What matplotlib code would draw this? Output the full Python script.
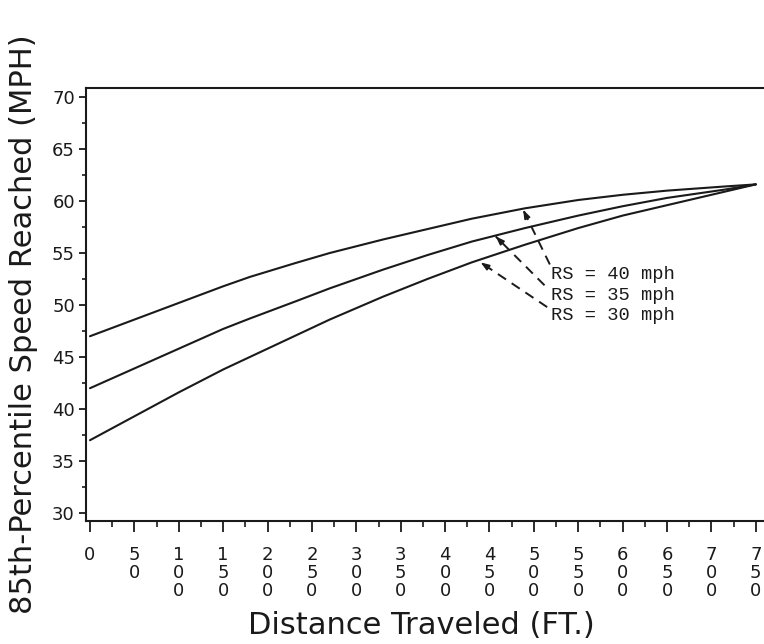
import matplotlib
matplotlib.use('Agg')
import matplotlib.pyplot as plt
from matplotlib.ticker import MultipleLocator, FixedLocator

# speed reached vs distance travelled, one curve per roadway speed (RS)
distance_ft = [0, 50, 100, 150, 180, 230, 270, 330, 380, 430, 490, 550, 600, 650, 715, 750]
speed_rs40 = [47.0, 48.6, 50.2, 51.8, 52.7, 54.0, 55.0, 56.3, 57.3, 58.3, 59.3, 60.1, 60.6, 61.0, 61.4, 61.6]
speed_rs35 = [42.0, 43.9, 45.8, 47.7, 48.7, 50.3, 51.6, 53.4, 54.8, 56.1, 57.4, 58.6, 59.5, 60.3, 61.1, 61.6]
speed_rs30 = [37.0, 39.3, 41.6, 43.8, 45.0, 47.0, 48.6, 50.8, 52.5, 54.1, 55.8, 57.4, 58.6, 59.6, 60.9, 61.6]

x_ticks = list(range(0, 751, 50))
y_ticks = list(range(30, 71, 5))

labels = ['RS = 40 mph', 'RS = 35 mph', 'RS = 30 mph']
label_xy = [(519, 52.9), (519, 50.95), (519, 49.0)]
arrow_tail = [(518, 53.9), (512, 51.9), (515, 49.8)]
arrow_head = [(488, 59.15), (457, 56.6), (440, 54.1)]

INK = '#1a1a1a'

fig = plt.figure(figsize=(7.64, 6.44), dpi=100)
ax = fig.add_axes([86 / 764, 1 - 521 / 644, 684 / 764, 433 / 644])

for speeds in (speed_rs40, speed_rs35, speed_rs30):
    ax.plot(distance_ft, speeds, color=INK, lw=1.5, solid_capstyle='round',
            solid_joinstyle='round')

for txt, pos, tail, head in zip(labels, label_xy, arrow_tail, arrow_head):
    ax.text(pos[0], pos[1], txt, ha='left', va='center', fontsize=13.5,
            family=['Liberation Mono', 'DejaVu Sans Mono'], color=INK)
    ax.plot([tail[0], head[0]], [tail[1], head[1]], color=INK, lw=1.4,
            dashes=(5, 3.5))
    back = (head[0] + 0.12 * (tail[0] - head[0]), head[1] + 0.12 * (tail[1] - head[1]))
    ax.annotate('', xy=head, xytext=back,
                arrowprops=dict(arrowstyle='-|>,head_length=0.5,head_width=0.18',
                                color=INK, lw=1.2, shrinkA=0, shrinkB=0))

ax.set_xlim(-4.5, 766)
ax.set_ylim(29.23, 70.87)

ax.spines['right'].set_visible(False)
for side in ('left', 'top', 'bottom'):
    ax.spines[side].set_linewidth(1.5)
    ax.spines[side].set_color(INK)

ax.xaxis.set_major_locator(FixedLocator(x_ticks))
ax.xaxis.set_minor_locator(MultipleLocator(25))
ax.yaxis.set_major_locator(FixedLocator(y_ticks))
ax.yaxis.set_minor_locator(MultipleLocator(2.5))
ax.set_xticklabels(['\n'.join(str(v)) for v in x_ticks], va='top',
                   linespacing=1.0)
ax.set_yticklabels([str(v) for v in y_ticks])

ax.tick_params(axis='x', which='major', direction='out', length=8, width=1.3,
               colors=INK, labelsize=13, pad=10)
ax.tick_params(axis='x', which='minor', direction='out', length=4, width=1.2,
               colors=INK)
ax.tick_params(axis='y', which='major', direction='out', length=5, width=1.3,
               colors=INK, labelsize=13, pad=3)
ax.tick_params(axis='y', which='minor', direction='out', length=3, width=1.2,
               colors=INK)

fig.text(421 / 764, 1 - 626 / 644, 'Distance Traveled (FT.)', ha='center',
         va='center', fontsize=22, color=INK)
fig.text(24 / 764, 1 - 324 / 644, '85th-Percentile Speed Reached (MPH)',
         ha='center', va='center', rotation=90, fontsize=22, color=INK)

plt.savefig('out.png', dpi=100)
